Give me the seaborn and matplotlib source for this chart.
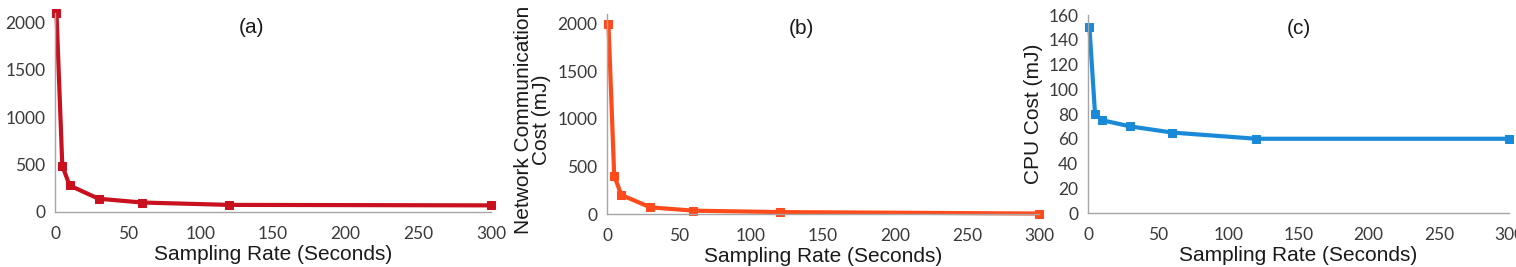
import numpy as np
import matplotlib
matplotlib.use("Agg")
import matplotlib.pyplot as plt
import seaborn as sns
import pandas as pd

# sampling rates (seconds) shared by all three panels
rates = [1, 5, 10, 30, 60, 120, 300]

# (a) total cost, (b) network communication cost, (c) CPU cost, all in mJ
total_cost = [2100, 490, 280, 140, 100, 75, 70]
network_cost = [2000, 400, 200, 70, 35, 20, 5]
cpu_cost = [150, 80, 75, 70, 65, 60, 60]

panel_titles = ['(a)', '(b)', '(c)']
ylabels = ['', 'Network Communication\nCost (mJ)', 'CPU Cost (mJ)']
XLABEL = 'Sampling Rate (Seconds)'
colors = ['#c8101e', '#ff4b1c', '#1a8ad8']

sns.set_style("white")
plt.rcParams['font.family'] = ['Liberation Sans', 'DejaVu Sans']

fig = plt.figure(figsize=(15.16, 2.67), dpi=100)
# axes rectangles in figure fractions
rects = [
    [0.0363, 0.206, 0.2876, 0.745],
    [0.4004, 0.1985, 0.2850, 0.749],
    [0.7177, 0.2022, 0.2777, 0.7416],
]
ylims = [(0, 2100), (0, 2100), (0, 160)]
yticks = [np.arange(0, 2001, 500), np.arange(0, 2001, 500), np.arange(0, 161, 20)]
series = [total_cost, network_cost, cpu_cost]

for i in range(3):
    ax = fig.add_axes(rects[i])
    df = pd.DataFrame({'rate': rates, 'cost': series[i]})
    sns.lineplot(data=df, x='rate', y='cost', ax=ax, color=colors[i],
                 marker='s', markersize=6, markeredgecolor=colors[i],
                 linewidth=3, clip_on=False)
    ax.set_xlim(0, 300)
    ax.set_ylim(*ylims[i])
    ax.set_xticks(np.arange(0, 301, 50))
    ax.set_yticks(yticks[i])
    for side in ['top', 'right']:
        ax.spines[side].set_visible(False)
    for side in ['left', 'bottom']:
        ax.spines[side].set_color('#a6a6a6')
        ax.spines[side].set_linewidth(1)
    ax.tick_params(axis='both', direction='out', length=4, width=1,
                   color='#a6a6a6', labelcolor='#3a3a3a', labelsize=12.5)
    ax.tick_params(axis='x', pad=6)
    ax.tick_params(axis='y', pad=3)
    for lab in ax.get_xticklabels() + ax.get_yticklabels():
        lab.set_family(['Lato', 'DejaVu Sans'])
    ax.set_xlabel(XLABEL, fontsize=15, color='#1a1a1a', labelpad=2)
    ax.set_ylabel(ylabels[i], fontsize=15, color='#1a1a1a', labelpad=4,
                  linespacing=0.95)
    if i == 1:
        ax.yaxis.set_label_coords(-0.13, 0.47)
    ax.text(0.45 if i < 2 else 0.5, 0.93, panel_titles[i], transform=ax.transAxes,
            ha='center', va='center', fontsize=15, color='#1a1a1a')

fig.savefig('out.png', dpi=100)
plt.close()
